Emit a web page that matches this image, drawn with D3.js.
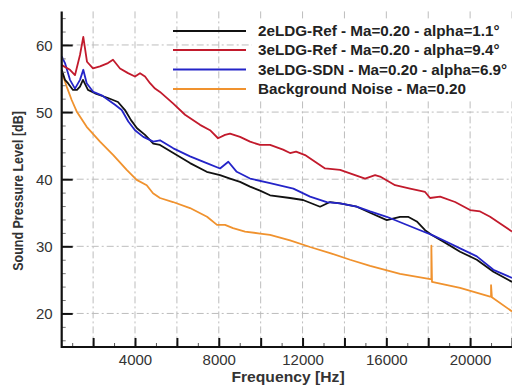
<!DOCTYPE html>
<html>
<head>
<meta charset="utf-8">
<script src="https://d3js.org/d3.v7.min.js"></script>
<style>
  body { margin: 0; background: #fff; }
  svg { display: block; }
  .tick-label { font-family: "Liberation Sans", Arial, sans-serif; font-size: 15px; fill: #333; }
  .axis-title { font-family: "Liberation Sans", Arial, sans-serif; font-size: 14px; font-weight: bold; fill: #333; }
  .legend-text { font-family: "Liberation Sans", Arial, sans-serif; font-size: 14px; font-weight: bold; fill: #222; }
</style>
</head>
<body>
<script>
// frequency [Hz] / level [dB]
var refFreq = [500, 895, 1134, 1373, 1531, 1707, 1994, 2328, 2710, 2949, 3284, 3666, 4000, 4239, 4478, 4717, 4956,
  5193, 5815, 6389, 7104, 7582, 7964, 8298, 8537, 9015, 9493, 9970, 10448, 11069, 11403, 11690, 12120, 12597,
  13075, 13791, 14507, 14985, 15463, 15701, 16418, 17134, 17850, 18089, 18567, 19283, 19999, 20477, 20954, 21432, 22000];
var ref94 = [57.0, 56.3, 55.5, 58.5, 61.2, 57.5, 56.5, 56.8, 57.3, 57.8, 56.5, 55.8, 55.3, 55.8, 55.3, 54.3, 53.5,
  53.0, 51.3, 49.6, 48.1, 47.3, 46.1, 46.6, 46.8, 46.3, 45.6, 45.1, 45.1, 44.4, 43.9, 44.1, 43.6, 42.6,
  41.6, 41.4, 40.6, 40.1, 40.6, 40.4, 39.1, 38.6, 38.1, 37.2, 37.4, 36.6, 35.4, 35.2, 34.4, 33.4, 32.2];

var sdnFreq = [500, 657, 895, 1134, 1373, 1531, 1693, 2008, 2410, 2725, 3045, 3365, 3680, 4000, 4396, 4874, 5193,
  5829, 6627, 7424, 8060, 8456, 8857, 9493, 10448, 11561, 12358, 13156, 13791, 14588, 15224, 16021, 16814,
  17611, 18170, 18724, 19521, 20320, 21112, 22000];
var sdn69 = [58.3, 57.3, 54.8, 53.5, 54.8, 56.3, 54.3, 53.0, 52.5, 51.8, 51.1, 50.3, 48.6, 47.3, 46.3, 45.6, 45.8,
  44.6, 43.4, 42.4, 41.6, 42.6, 41.1, 40.1, 39.4, 38.6, 37.4, 36.6, 36.4, 35.9, 35.2, 34.4, 33.4,
  32.4, 31.7, 30.9, 29.7, 28.5, 26.5, 25.3];

var ref2Freq = [500, 657, 800, 1039, 1229, 1373, 1516, 1755, 2089, 2710, 3188, 3522, 3809, 4096, 4478, 4874, 5193,
  5829, 6627, 7424, 8060, 8537, 9015, 9493, 9970, 10448, 11403, 12024, 12836, 13314, 13791, 14588, 15224,
  16021, 16656, 17038, 17453, 17850, 18170, 18724, 19521, 20320, 21112, 22000];
var ref11 = [56.3, 54.8, 54.3, 53.3, 53.3, 53.8, 54.8, 53.3, 52.8, 52.1, 51.5, 50.3, 48.8, 47.6, 46.6, 45.3, 45.1,
  43.9, 42.4, 41.1, 40.6, 40.1, 39.6, 38.9, 38.3, 37.6, 37.2, 36.9, 35.9, 36.6, 36.4, 35.9, 35.0,
  33.9, 34.4, 34.4, 33.7, 32.4, 31.7, 30.7, 29.2, 28.0, 26.2, 24.7];

var bgFreq = [500, 738, 976, 1215, 1693, 2328, 2964, 3604, 4081, 4559, 4860, 5194, 5815, 6627, 7439, 7917, 8298,
  8680, 9253, 9970, 10448, 11403, 12358, 13314, 14269, 15224, 16656, 18100, 18150, 18150, 18180, 19521,
  20954, 21000, 21000, 21040, 22000];
var bgNoise = [56.0, 53.8, 51.8, 50.1, 47.8, 45.6, 43.6, 41.4, 39.9, 39.1, 37.9, 37.2, 36.6, 35.7, 34.4, 33.2, 33.2,
  32.7, 32.2, 31.9, 31.7, 30.9, 29.9, 29.0, 28.0, 27.1, 25.9, 25.1, 25.1, 30.1, 24.7, 23.8,
  22.5, 22.5, 24.2, 22.4, 20.3];

var xTicks = [4000, 8000, 12000, 16000, 20000];
var yTicks = [20, 30, 40, 50, 60];

var seriesNames = [
  "2eLDG-Ref - Ma=0.20 - alpha=1.1\u00b0",
  "3eLDG-Ref - Ma=0.20 - alpha=9.4\u00b0",
  "3eLDG-SDN - Ma=0.20 - alpha=6.9\u00b0",
  "Background Noise  - Ma=0.20"
];
var seriesColors = ["#111111", "#c21a2c", "#2424c8", "#f0922e"];

var series = [
  { f: ref2Freq, v: ref11 },
  { f: refFreq, v: ref94 },
  { f: sdnFreq, v: sdn69 },
  { f: bgFreq, v: bgNoise }
];

var width = 512, height = 385;
var plotLeft = 61.7, plotRight = 512, plotTop = 11.4, plotBottom = 347;

var svg = d3.select("body").append("svg")
    .attr("width", width)
    .attr("height", height);

var x = d3.scaleLinear().domain([500, 22000]).range([plotLeft, plotRight]);
var y = d3.scaleLinear().domain([15, 65]).range([plotBottom, plotTop]);

// grid
var grid = svg.append("g").attr("stroke", "#bdbdbd").attr("stroke-width", 1)
    .attr("stroke-dasharray", "7,3,2,3").attr("fill", "none");
d3.range(2000, 22001, 2000).forEach(function (f) {
  grid.append("line").attr("x1", x(f)).attr("x2", x(f)).attr("y1", plotTop).attr("y2", plotBottom);
});
yTicks.forEach(function (v) {
  grid.append("line").attr("x1", plotLeft).attr("x2", plotRight).attr("y1", y(v)).attr("y2", y(v));
});

// legend background over the text part
svg.append("rect").attr("x", 252).attr("y", 21).attr("width", 260).attr("height", 78).attr("fill", "#fff");

// curves, background first
var line = d3.line()
    .x(function (d) { return x(d[0]); })
    .y(function (d) { return y(d[1]); });

[3, 0, 2, 1].forEach(function (i) {
  var s = series[i];
  var pts = s.f.map(function (f, j) { return [f, s.v[j]]; });
  svg.append("path")
      .attr("d", line(pts))
      .attr("fill", "none")
      .attr("stroke", seriesColors[i])
      .attr("stroke-width", 1.8)
      .attr("stroke-linejoin", "round");
});

// axes (ticks pointing inward)
var xAxis = d3.axisBottom(x).tickValues(d3.range(2000, 22001, 2000)).tickSize(-9)
    .tickFormat(function (d) { return xTicks.indexOf(d) >= 0 ? d : ""; });
var gx = svg.append("g").attr("transform", "translate(0," + plotBottom + ")").call(xAxis);
gx.select(".domain").remove();
gx.selectAll(".tick line").attr("stroke", "#111").attr("stroke-width", 2);
gx.selectAll(".tick text").attr("class", "tick-label").attr("y", 7).attr("dy", "0.71em");

var xMinor = svg.append("g").attr("transform", "translate(0," + plotBottom + ")")
    .call(d3.axisBottom(x).tickValues(d3.range(1000, 22001, 2000)).tickSize(-4).tickFormat(""));
xMinor.select(".domain").remove();
xMinor.selectAll(".tick line").attr("stroke", "#555").attr("stroke-width", 1);

var yAxis = d3.axisLeft(y).tickValues(yTicks).tickSize(-11);
var gy = svg.append("g").attr("transform", "translate(" + plotLeft + ",0)").call(yAxis);
gy.select(".domain").remove();
gy.selectAll(".tick line").attr("stroke", "#111").attr("stroke-width", 2);
gy.selectAll(".tick text").attr("class", "tick-label").attr("x", -9).attr("dy", "0.36em");

var yMinor = svg.append("g").attr("transform", "translate(" + plotLeft + ",0)")
    .call(d3.axisLeft(y).tickValues(d3.range(16, 65, 2).filter(function (v) { return v % 10 !== 0; }))
      .tickSize(-4).tickFormat(""));
yMinor.select(".domain").remove();
yMinor.selectAll(".tick line").attr("stroke", "#777").attr("stroke-width", 1);

svg.append("path")
    .attr("d", "M" + plotLeft + "," + plotTop + "V" + plotBottom + "H" + plotRight)
    .attr("fill", "none").attr("stroke", "#111").attr("stroke-width", 2.2);

// titles (the picture is a little stretched sideways)
svg.append("text").attr("class", "axis-title")
    .attr("transform", "translate(288,382) scale(1.12,1)")
    .attr("text-anchor", "middle")
    .text("Frequency [Hz]");
svg.append("text").attr("class", "axis-title")
    .style("font-size", "12.5px")
    .attr("transform", "translate(23,191) rotate(-90) scale(1,1.12)")
    .attr("text-anchor", "middle")
    .text("Sound Pressure Level [dB]");

// legend
var legendY = [31, 50, 69.5, 89];
seriesNames.forEach(function (name, i) {
  svg.append("line")
      .attr("x1", 173).attr("x2", 246)
      .attr("y1", legendY[i]).attr("y2", legendY[i])
      .attr("stroke", seriesColors[i]).attr("stroke-width", 2);
  svg.append("text").attr("class", "legend-text")
      .attr("transform", "translate(258," + legendY[i] + ") scale(1.09,1)")
      .attr("dy", "0.36em")
      .text(name);
});
</script>
</body>
</html>
